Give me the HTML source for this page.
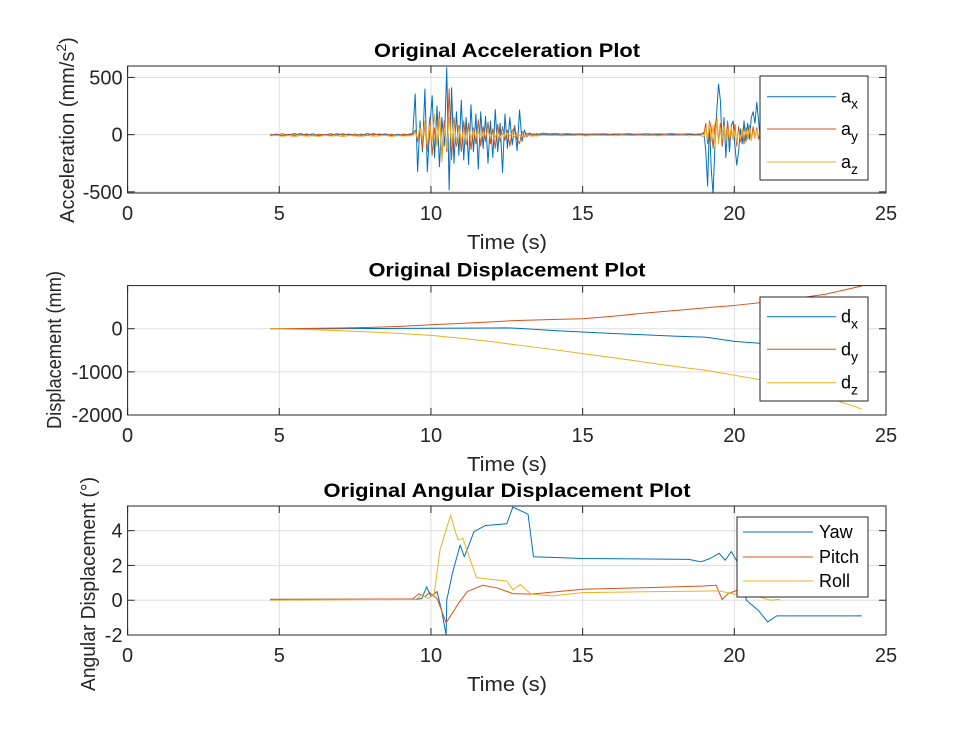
<!DOCTYPE html>
<html><head><meta charset="utf-8"><style>
body{margin:0;background:#fff;}
svg{display:block;font-family:"Liberation Sans",sans-serif;}
</style></head><body>
<svg id="fig" width="980" height="735" viewBox="0 0 980 735">
<defs>
<clipPath id="c1"><rect x="127.6" y="66" width="758.4" height="127"/></clipPath>
<clipPath id="c2"><rect x="127.6" y="285.6" width="758.4" height="129.4"/></clipPath>
<clipPath id="c3"><rect x="127.6" y="506" width="758.4" height="129"/></clipPath>
</defs>
</svg>
<script>
// ---- Acceleration data ----
const accTimeQ1=[4.7,4.9,5.1,5.3,5.5,5.7,5.9,6.1,6.3,6.5,6.7,6.9,7.1,7.3,7.5,7.7,7.9,8.1,8.3,8.5,8.7,8.9,9.1,9.3];
const axQ1=[-8,6,-10,4,-6,9,-5,7,-9,3,-7,8,-4,6,-10,5,-6,9,-3,7,-8,4,-6,5];
const ayQ1=[5,-7,8,-4,10,-6,7,-9,5,-3,9,-6,8,-5,6,-8,10,-4,7,-6,5,-9,6,-4];
const azQ1=[-12,-4,-15,-8,-18,-6,-14,-10,-16,-5,-13,-9,-17,-7,-12,-15,-8,-14,-11,-6,-16,-9,-13,-10];
const accTimeB1=[9.40,9.48,9.56,9.64,9.72,9.80,9.88,9.96,10.04,10.12,10.20,10.28,10.36,10.44,10.52,10.60,10.68,10.76,10.84,10.92,11.00,11.08,11.16,11.24,11.32,11.40,11.48,11.56,11.64,11.72,11.80,11.88,11.96,12.04,12.12,12.20,12.28,12.36,12.44,12.52,12.60,12.68,12.76,12.84,12.92,13.00,13.08,13.16,13.24,13.32,13.40,13.48,13.56];
const axB1=[10,355,-324,120,-150,399,-324,60,340,-200,250,-280,150,-100,586,-483,410,-250,200,-180,300,-220,150,-260,260,-150,180,-300,200,-120,160,-250,120,-200,220,-150,100,-330,180,-120,150,-90,80,-140,215,-60,40,-20,15,5,-8,10,-5];
const ayB1=[5,40,-60,80,-120,100,-150,150,-180,60,-100,200,-200,120,-150,400,-220,150,-100,80,-150,120,-90,100,-130,60,-80,130,-100,70,-60,110,-80,50,-120,90,-60,70,-50,40,-100,30,70,-40,-80,30,-20,10,5,-5,8,-4,6];
const azB1=[-10,20,-30,60,-40,120,-90,80,-60,180,-100,140,-240,60,-120,150,-80,100,-70,60,-50,40,-60,50,-30,40,-20,30,-40,20,-10,30,-25,15,-20,25,-30,10,-15,20,-10,15,-20,10,-5,-15,-10,-12,-8,-14,-10,-12,-9];
const accTimeQ2=[13.7,13.9,14.1,14.3,14.5,14.7,14.9,15.1,15.3,15.5,15.7,15.9,16.1,16.3,16.5,16.7,16.9,17.1,17.3,17.5,17.7,17.9,18.1,18.3,18.5,18.7,18.9];
const axQ2=[5,-3,4,-6,3,-5,2,-4,6,-3,4,-5,3,-2,5,-4,3,-6,4,-3,5,-2,4,-5,3,-4,2];
const ayQ2=[12,8,10,6,9,5,8,4,7,6,8,3,7,5,9,4,6,8,5,7,4,9,6,5,8,4,7];
const azQ2=[-4,-8,-5,-10,-6,-9,-4,-11,-7,-5,-9,-6,-10,-4,-8,-7,-5,-9,-6,-11,-5,-8,-7,-4,-10,-6,-8];
const accTimeB2=[19.00,19.06,19.12,19.18,19.24,19.30,19.36,19.42,19.48,19.54,19.60,19.66,19.72,19.78,19.84,19.90,19.96,20.02,20.08,20.14,20.20,20.26,20.32,20.38,20.44,20.50,20.56,20.62,20.68,20.74,20.80,20.86];
const axB2=[20,-150,-450,100,-300,-526,-100,200,442,300,-100,150,-200,100,-150,80,120,-100,-266,-150,50,-80,120,-60,100,-40,150,200,100,283,120,-60];
const ayB2=[10,100,-80,120,60,-120,80,150,-60,100,-100,80,-50,120,-80,60,-40,90,-100,70,-60,50,-80,60,-40,80,-50,70,-30,60,-40,20];
const azB2=[-20,60,-40,100,-60,80,-100,120,-80,60,-40,80,-60,50,-30,70,-50,40,-60,30,-40,50,-20,40,-30,60,-50,30,-20,40,-10,20];
const accTime=accTimeQ1.concat(accTimeB1,accTimeQ2,accTimeB2);
const accX=axQ1.concat(axB1,axQ2,axB2);
const accY=ayQ1.concat(ayB1,ayQ2,ayB2);
const accZ=azQ1.concat(azB1,azQ2,azB2);
// ---- Displacement data ----
const dispTime=[4.7,6,7,8,9,10,11,12,12.5,13,14,15,16,17,18,19,19.2,20,21,22,23,24.2];
const dispX=[0,0,2,5,8,10,14,18,20,5,-40,-77,-110,-140,-170,-195,-208,-292,-346,-390,-430,-470];
const dispY=[0,8,18,32,55,92,125,160,180,195,215,230,290,360,420,480,495,540,615,700,800,990];
const dispZ=[0,-20,-45,-75,-110,-154,-220,-300,-346,-390,-480,-577,-670,-770,-870,-960,-980,-1077,-1200,-1380,-1580,-1860];
// ---- Angular data ----
const yawTime=[4.7,9.5,9.7,9.86,10.0,10.2,10.35,10.5,10.52,10.7,10.96,11.1,11.42,11.8,12.5,12.7,13.2,13.38,15,18.5,18.9,19.2,19.5,19.7,19.9,20.1,20.4,20.8,21.1,21.4,24.2];
const yawVals=[0.05,0.05,0.1,0.77,0.2,0.5,-0.58,-2.0,0,1.5,3.17,2.5,3.95,4.3,4.4,5.36,4.95,2.5,2.4,2.35,2.21,2.4,2.7,2.3,2.8,2.2,0,-0.6,-1.25,-0.9,-0.9];
const pitchTime=[4.7,9.4,9.6,9.8,9.95,10.2,10.5,10.9,11.2,11.7,12.2,12.7,13.3,15,17,19,19.4,19.6,19.8,20.1,20.5,20.9];
const pitchVals=[0.05,0.08,0.37,0.2,0.45,0.1,-1.3,-0.2,0.5,0.86,0.7,0.38,0.35,0.63,0.72,0.82,0.86,0.04,0.38,0.58,0.4,0.4];
const rollTime=[4.7,9.5,9.7,9.9,10.1,10.3,10.65,10.8,10.9,11.05,11.5,12.5,12.7,12.95,13.3,14,15,19.5,20,20.6,21.2,21.5];
const rollVals=[0.0,0.05,0.3,0.1,0.3,2.9,4.9,3.95,3.46,3.56,1.3,1.1,0.6,0.9,0.35,0.25,0.44,0.54,0.35,0.3,0.0,0.05];
// ---- ticks ----
const xTicks=[0,5,10,15,20,25];
const accTicks=[-500,0,500];
const dispTicks=[-2000,-1000,0];
const angTicks=[-2,0,2,4];

const NS="http://www.w3.org/2000/svg";
const svg=document.getElementById('fig');
const C1='#0072BD',C2='#D95319',C3='#EDB120';
const L=127.6,R=886;
function mk(tag,attrs,parent){const e=document.createElementNS(NS,tag);for(const k in attrs)e.setAttribute(k,attrs[k]);(parent||svg).appendChild(e);return e;}

function axes(cfg){
  const g=mk('g',{});
  
  
  const sx=v=>L+(v-0)/(25-0)*(R-L);
  const sy=v=>cfg.bot-(v-cfg.ymin)/(cfg.ymax-cfg.ymin)*(cfg.bot-cfg.top);
  mk('rect',{x:L,y:cfg.top,width:R-L,height:cfg.bot-cfg.top,fill:'#fff'},g);
  xTicks.forEach(v=>{const l=mk('line',{x1:sx(v),x2:sx(v),y1:cfg.top,y2:cfg.bot,stroke:'#dfdfdf','stroke-width':1},g);
    
    });
  cfg.yticks.forEach(v=>{const l=mk('line',{x1:L,x2:R,y1:sy(v),y2:sy(v),stroke:'#dfdfdf','stroke-width':1},g);
    
    });
  const sg=mk('g',{'clip-path':'url(#'+cfg.clip+')'},g);
  cfg.series.forEach(s=>{
    let d='';s.t.forEach((t,i)=>{d+=(i?'L':'M')+sx(t).toFixed(2)+' '+sy(s.v[i]).toFixed(2);});
    const p=mk('path',{d:d,fill:'none',stroke:s.c,'stroke-width':1,'stroke-linejoin':'round'},sg);
    
    
  });
  const b=mk('rect',{x:L,y:cfg.top,width:R-L,height:cfg.bot-cfg.top,fill:'none',stroke:'#262626','stroke-width':1},g);
  
  
  xTicks.forEach(v=>{
    mk('line',{x1:sx(v),x2:sx(v),y1:cfg.bot,y2:cfg.bot-7,stroke:'#262626'},g);
    mk('line',{x1:sx(v),x2:sx(v),y1:cfg.top,y2:cfg.top+7,stroke:'#262626'},g);
    const t=mk('text',{x:sx(v),y:cfg.bot+27,'text-anchor':'middle','font-size':20,fill:'#262626'},g);
    t.textContent=v;
    
    
  });
  cfg.yticks.forEach(v=>{
    mk('line',{x1:L,x2:L+7,y1:sy(v),y2:sy(v),stroke:'#262626'},g);
    mk('line',{x1:R,x2:R-7,y1:sy(v),y2:sy(v),stroke:'#262626'},g);
    const t=mk('text',{x:L-5,y:sy(v)+7,'text-anchor':'end','font-size':20,fill:'#262626'},g);
    t.textContent=v;
    
    
  });
  const ti=mk('text',{x:507,y:cfg.top-9,'text-anchor':'middle','font-size':19,'font-weight':'bold',fill:'#000',textLength:cfg.tw,lengthAdjust:'spacingAndGlyphs'},g);
  ti.textContent=cfg.title;
  
  
  const xl=mk('text',{x:507,y:cfg.bot+56,'text-anchor':'middle','font-size':20,fill:'#262626',textLength:80,lengthAdjust:'spacingAndGlyphs'},g);
  xl.textContent='Time (s)';
  
  
  const yl=mk('text',{x:0,y:0,'text-anchor':'middle','font-size':20,fill:'#262626',transform:'translate('+cfg.ylx+','+cfg.yly+') rotate(-90)'},g);
  yl.innerHTML=cfg.ylabel;
  if(cfg.yw){yl.setAttribute('textLength',cfg.yw);yl.setAttribute('lengthAdjust','spacingAndGlyphs');}
  
  
  const lg=mk('g',{},g);
  
  
  const lc=cfg.leg;
  mk('rect',{x:lc.x,y:lc.y,width:lc.w,height:lc.h,fill:'#fff',stroke:'#262626','stroke-width':1},lg);
  cfg.series.forEach((s,i)=>{
    const yy=lc.ys[i];
    const ln=mk('line',{x1:lc.l1,x2:lc.l2,y1:yy,y2:yy,stroke:s.c,'stroke-width':1},lg);
    
    
    const tx=mk('text',{x:lc.tx,y:yy+6,'font-size':18,fill:'#000'},lg);
    tx.innerHTML=s.label;
    
    
  });
}

axes({name:'acceleration-axes',top:66,bot:193,ymin:-510,ymax:600,yticks:accTicks,clip:'c1',
  title:'Original Acceleration Plot',tw:266,ylx:74,yly:130,
  ylabel:'Acceleration (mm/s<tspan dy="-8" font-size="14">2</tspan><tspan dy="8">)</tspan>',
  leg:{x:760,y:76,w:108,h:104,l1:767,l2:836,tx:841,ys:[96.7,129,162]},
  series:[{t:accTime,v:accX,c:C1,name:'ax-line',label:'a<tspan dy="6" font-size="14">x</tspan>'},
          {t:accTime,v:accY,c:C2,name:'ay-line',label:'a<tspan dy="6" font-size="14">y</tspan>'},
          {t:accTime,v:accZ,c:C3,name:'az-line',label:'a<tspan dy="6" font-size="14">z</tspan>'}]});
axes({name:'displacement-axes',top:285.6,bot:415,ymin:-2000,ymax:1000,yticks:dispTicks,clip:'c2',
  title:'Original Displacement Plot',tw:277,ylx:61,yly:350,ylabel:'Displacement (mm)',yw:158,
  leg:{x:760,y:297,w:108,h:104,l1:767,l2:836,tx:841,ys:[316.7,349.3,382.7]},
  series:[{t:dispTime,v:dispX,c:C1,name:'dx-line',label:'d<tspan dy="6" font-size="14">x</tspan>'},
          {t:dispTime,v:dispY,c:C2,name:'dy-line',label:'d<tspan dy="6" font-size="14">y</tspan>'},
          {t:dispTime,v:dispZ,c:C3,name:'dz-line',label:'d<tspan dy="6" font-size="14">z</tspan>'}]});
axes({name:'angular-axes',top:506,bot:635,ymin:-2,ymax:5.42,yticks:angTicks,clip:'c3',
  title:'Original Angular Displacement Plot',tw:367,ylx:95,yly:584,ylabel:'Angular Displacement (°)',yw:214,
  leg:{x:737,y:517,w:131,h:80,l1:743,l2:813,tx:819,ys:[532,557,581]},
  series:[{t:yawTime,v:yawVals,c:C1,name:'yaw-line',label:'Yaw'},
          {t:pitchTime,v:pitchVals,c:C2,name:'pitch-line',label:'Pitch'},
          {t:rollTime,v:rollVals,c:C3,name:'roll-line',label:'Roll'}]});
</script>
</body></html>
